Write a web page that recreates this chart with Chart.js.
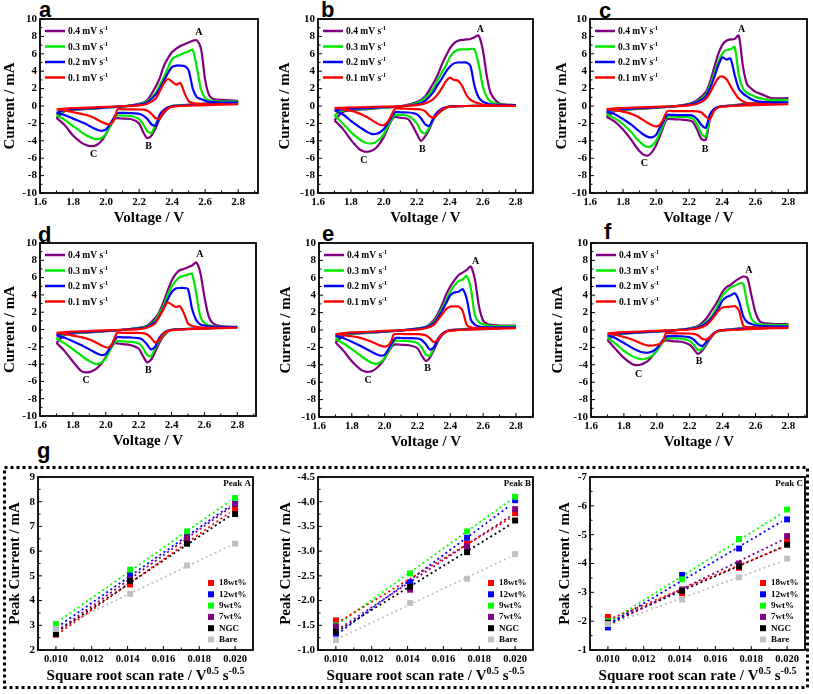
<!DOCTYPE html>
<html lang="en">
<head>
<meta charset="UTF-8" />
<title>CV curves and peak current fits</title>
<script src="https://cdn.jsdelivr.net/npm/chart.js"></script>
<style>
  body { margin: 0; background: #fff; }
  #fig { position: relative; width: 813px; height: 694px; overflow: hidden; }
  .panel { position: absolute; }
  .tag { position: absolute; font: bold 22px "Liberation Sans", Arial, sans-serif; line-height: 1; color: #000; }
  svg.box { position: absolute; left: 0; top: 0; }
</style>
</head>
<body>
<div id="fig">
  <svg class="box" width="813" height="694">
    <rect x="4.5" y="467.5" width="803" height="220" fill="none" stroke="#000" stroke-width="3" stroke-dasharray="3 3" />
  </svg>
  <div class="tag" style="left:39px;top:-1px">a</div>
  <div class="tag" style="left:321px;top:-1px">b</div>
  <div class="tag" style="left:599px;top:0px">c</div>
  <div class="tag" style="left:38px;top:224px">d</div>
  <div class="tag" style="left:322px;top:223px">e</div>
  <div class="tag" style="left:604px;top:221px">f</div>
  <div class="tag" style="left:37px;top:440px">g</div>
</div>

<script>
// ---- axis ticks and labels ----
const cvXTicks = [1.6, 1.8, 2.0, 2.2, 2.4, 2.6, 2.8];
const cvYTicks = [-10, -8, -6, -4, -2, 0, 2, 4, 6, 8, 10];
const gXTicks = [0.010, 0.012, 0.014, 0.016, 0.018, 0.020];
const gAYTicks = [2, 3, 4, 5, 6, 7, 8, 9];
const gBYTicks = [-4.5, -4.0, -3.5, -3.0, -2.5, -2.0, -1.5, -1.0];
const gCYTicks = [-7, -6, -5, -4, -3, -2, -1];
const rateLabels = ['0.4', '0.3', '0.2', '0.1'];
const sampleLabels = ['18wt%', '12wt%', '9wt%', '7wt%', 'NGC', 'Bare'];

// ---- CV voltage grid: anodic sweep then cathodic sweep ----
const vUp = [1.70, 1.75, 1.80, 1.90, 2.00, 2.10, 2.20, 2.25, 2.30, 2.325, 2.35, 2.375, 2.40, 2.425, 2.45, 2.475, 2.50, 2.525, 2.55, 2.575, 2.60, 2.625, 2.65, 2.70, 2.80];
const vDown = [2.80, 2.70, 2.60, 2.50, 2.45, 2.40, 2.375, 2.35, 2.325, 2.30, 2.275, 2.25, 2.225, 2.20, 2.15, 2.10, 2.07, 2.055, 2.04, 2.02, 2.00, 1.975, 1.95, 1.925, 1.90, 1.875, 1.85, 1.80, 1.75, 1.70];

// currents (mA), rows: 0.4, 0.3, 0.2, 0.1 mV/s
const aUp = [
  [-1.37, -0.6, -0.45, -0.33, -0.2, -0.05, 0.25, 0.7, 2.2, 3.2, 4.6, 5.5, 6.2, 6.6, 6.9, 7.1, 7.3, 7.5, 7.55, 6.6, 3.0, 1.2, 0.8, 0.7, 0.6],
  [-1.07, -0.55, -0.42, -0.3, -0.18, -0.05, 0.2, 0.55, 1.5, 2.4, 3.3, 4.4, 5.4, 5.7, 5.9, 6.1, 6.3, 6.45, 4.4, 1.9, 0.9, 0.65, 0.55, 0.5, 0.5],
  [-0.8, -0.45, -0.37, -0.27, -0.15, -0.04, 0.15, 0.45, 1.3, 2.0, 2.9, 3.8, 4.5, 4.65, 4.65, 4.6, 4.1, 2.0, 1.0, 0.8, 0.6, 0.5, 0.45, 0.4, 0.4],
  [-0.38, -0.3, -0.25, -0.18, -0.1, -0.03, 0.08, 0.27, 0.84, 1.7, 2.6, 3.1, 2.8, 2.45, 2.65, 1.5, 0.55, 0.35, 0.27, 0.23, 0.22, 0.2, 0.2, 0.2, 0.2]
];
const aDown = [
  [0.6, 0.45, 0.3, 0.15, 0.08, 0.0, -0.3, -0.8, -1.5, -2.55, -3.4, -3.7, -3.0, -2.0, -1.5, -1.45, -1.4, -1.45, -1.85, -2.45, -3.2, -3.95, -4.4, -4.6, -4.6, -4.45, -4.2, -3.4, -2.2, -1.37],
  [0.5, 0.4, 0.25, 0.12, 0.05, -0.02, -0.2, -0.55, -1.2, -2.1, -3.1, -2.9, -2.1, -1.5, -1.15, -1.1, -1.07, -1.3, -1.8, -2.5, -3.2, -3.65, -3.8, -3.75, -3.55, -3.3, -3.0, -2.3, -1.6, -1.07],
  [0.4, 0.3, 0.2, 0.1, 0.04, -0.03, -0.15, -0.45, -1.0, -2.25, -2.1, -1.5, -1.1, -0.9, -0.82, -0.8, -0.8, -1.1, -1.6, -2.2, -2.7, -2.85, -2.75, -2.55, -2.3, -2.05, -1.85, -1.45, -1.05, -0.8],
  [0.2, 0.15, 0.1, 0.05, 0.0, -0.1, -0.25, -0.6, -1.4, -1.4, -0.9, -0.55, -0.42, -0.4, -0.38, -0.38, -0.38, -1.2, -1.8, -2.1, -2.05, -1.85, -1.6, -1.35, -1.15, -1.0, -0.9, -0.7, -0.5, -0.38]
];
const bUp = [
  [-1.64, -0.7, -0.5, -0.35, -0.2, -0.05, 0.46, 1.1, 2.6, 3.5, 4.7, 5.7, 6.6, 7.2, 7.5, 7.6, 7.65, 7.7, 7.9, 8.1, 6.5, 3.4, 1.4, 0.3, 0.1],
  [-1.07, -0.55, -0.42, -0.3, -0.18, -0.05, 0.35, 0.9, 2.0, 2.9, 3.8, 4.6, 5.6, 6.2, 6.45, 6.5, 6.5, 6.55, 6.5, 4.8, 2.3, 1.0, 0.5, 0.2, 0.1],
  [-0.5, -0.38, -0.32, -0.24, -0.14, -0.04, 0.2, 0.6, 1.6, 2.4, 3.1, 3.9, 4.5, 4.9, 5.0, 5.0, 5.0, 4.6, 2.3, 1.0, 0.5, 0.3, 0.2, 0.12, 0.1],
  [-0.23, -0.2, -0.17, -0.12, -0.08, -0.03, 0.1, 0.3, 0.8, 1.3, 2.0, 2.8, 3.25, 3.0, 2.9, 2.3, 1.3, 0.7, 0.45, 0.3, 0.15, 0.1, 0.07, 0.05, 0.03]
];
const bDown = [
  [0.1, 0.05, 0.02, 0.0, -0.02, -0.08, -0.25, -0.55, -0.95, -1.6, -2.7, -3.5, -4.0, -3.2, -1.55, -1.35, -1.26, -1.4, -1.85, -2.7, -3.55, -4.3, -4.85, -5.15, -5.26, -5.2, -4.95, -3.9, -2.6, -1.64],
  [0.1, 0.04, 0.02, 0.0, -0.02, -0.07, -0.2, -0.45, -0.85, -1.5, -2.5, -3.15, -2.9, -2.0, -1.15, -1.02, -1.0, -1.3, -1.8, -2.5, -3.2, -3.8, -4.15, -4.3, -4.28, -4.1, -3.8, -3.0, -2.0, -1.07],
  [0.1, 0.04, 0.02, 0.0, -0.02, -0.06, -0.15, -0.35, -0.7, -1.4, -2.3, -2.1, -1.4, -0.95, -0.75, -0.72, -0.7, -1.05, -1.5, -2.1, -2.65, -3.05, -3.22, -3.2, -3.0, -2.7, -2.4, -1.7, -0.95, -0.5],
  [0.03, 0.02, 0.0, 0.0, -0.03, -0.08, -0.2, -0.45, -0.95, -1.37, -1.1, -0.6, -0.4, -0.35, -0.32, -0.3, -0.3, -0.7, -1.3, -1.9, -2.2, -2.15, -1.9, -1.6, -1.3, -1.05, -0.85, -0.55, -0.35, -0.23]
];
const cUp = [
  [-1.23, -0.6, -0.45, -0.33, -0.2, -0.05, 0.25, 0.7, 1.6, 2.7, 4.3, 5.9, 7.0, 7.5, 7.65, 7.7, 8.1, 4.6, 2.5, 2.0, 1.65, 1.45, 1.25, 0.9, 0.9],
  [-0.92, -0.5, -0.4, -0.3, -0.18, -0.05, 0.2, 0.55, 1.3, 2.3, 3.6, 5.0, 6.0, 6.45, 6.5, 6.8, 3.6, 2.0, 1.5, 1.3, 1.05, 0.9, 0.8, 0.7, 0.7],
  [-0.65, -0.42, -0.35, -0.26, -0.15, -0.04, 0.15, 0.45, 1.1, 2.0, 3.2, 4.6, 5.6, 5.35, 5.45, 3.6, 2.0, 1.45, 1.1, 0.8, 0.6, 0.5, 0.45, 0.42, 0.42],
  [-0.35, -0.28, -0.23, -0.16, -0.1, -0.03, 0.08, 0.25, 0.8, 1.5, 2.4, 3.2, 3.4, 3.1, 2.3, 1.5, 0.85, 0.52, 0.35, 0.28, 0.25, 0.23, 0.22, 0.2, 0.2]
];
const cDown = [
  [0.9, 0.6, 0.35, 0.15, 0.05, -0.03, -0.15, -0.45, -1.6, -3.9, -3.8, -2.8, -1.9, -1.65, -1.55, -1.52, -1.5, -1.8, -2.6, -3.6, -4.5, -5.3, -5.7, -5.6, -5.2, -4.6, -3.9, -2.7, -1.8, -1.23],
  [0.7, 0.45, 0.28, 0.12, 0.04, -0.03, -0.12, -0.4, -1.2, -3.55, -3.2, -2.2, -1.5, -1.3, -1.25, -1.23, -1.22, -1.6, -2.3, -3.2, -4.0, -4.55, -4.7, -4.5, -4.1, -3.6, -3.0, -2.1, -1.4, -0.92],
  [0.42, 0.32, 0.2, 0.1, 0.03, -0.03, -0.12, -0.35, -1.0, -2.5, -2.2, -1.55, -1.15, -1.05, -1.04, -1.03, -1.0, -1.35, -1.9, -2.6, -3.3, -3.6, -3.55, -3.3, -2.95, -2.55, -2.15, -1.5, -0.95, -0.65],
  [0.2, 0.15, 0.1, 0.04, 0.0, -0.06, -0.15, -0.6, -1.5, -1.2, -0.75, -0.62, -0.6, -0.58, -0.58, -0.58, -0.56, -1.0, -1.7, -2.2, -2.35, -2.2, -1.95, -1.65, -1.35, -1.1, -0.9, -0.65, -0.48, -0.35]
];
const dUp = [
  [-1.54, -0.65, -0.48, -0.34, -0.2, -0.05, 0.2, 0.4, 1.3, 2.0, 3.1, 4.4, 5.6, 6.4, 6.85, 7.0, 7.2, 7.4, 7.75, 6.6, 3.8, 1.6, 0.75, 0.4, 0.3],
  [-1.04, -0.55, -0.42, -0.3, -0.18, -0.05, 0.18, 0.35, 1.0, 1.8, 2.7, 3.9, 4.9, 5.6, 6.05, 6.2, 6.35, 6.45, 4.2, 1.5, 0.75, 0.5, 0.38, 0.3, 0.28],
  [-0.65, -0.42, -0.35, -0.26, -0.15, -0.04, 0.12, 0.3, 0.85, 1.5, 2.4, 3.4, 4.3, 4.75, 4.8, 4.8, 4.7, 2.4, 1.1, 0.6, 0.45, 0.38, 0.33, 0.3, 0.28],
  [-0.38, -0.3, -0.25, -0.18, -0.1, -0.03, 0.05, 0.2, 0.7, 1.5, 2.3, 3.15, 2.9, 2.6, 2.7, 1.9, 0.7, 0.4, 0.3, 0.25, 0.22, 0.2, 0.2, 0.2, 0.2]
];
const dDown = [
  [0.3, 0.25, 0.15, 0.08, 0.03, -0.03, -0.3, -0.8, -1.6, -2.6, -3.5, -3.8, -3.0, -2.2, -1.8, -1.7, -1.6, -1.6, -1.9, -2.5, -3.2, -3.9, -4.4, -4.75, -4.92, -4.96, -4.8, -3.7, -2.5, -1.54],
  [0.28, 0.22, 0.13, 0.07, 0.02, -0.03, -0.25, -0.65, -1.3, -2.2, -3.1, -2.9, -2.1, -1.6, -1.42, -1.38, -1.35, -1.5, -1.9, -2.6, -3.3, -3.8, -4.0, -3.9, -3.65, -3.35, -3.0, -2.3, -1.6, -1.04],
  [0.28, 0.2, 0.12, 0.06, 0.02, -0.03, -0.15, -0.45, -1.0, -2.0, -2.3, -1.7, -1.2, -1.0, -0.92, -0.9, -0.88, -1.2, -1.7, -2.3, -2.85, -2.95, -2.8, -2.55, -2.3, -2.05, -1.8, -1.35, -0.95, -0.65],
  [0.2, 0.15, 0.1, 0.05, 0.0, -0.08, -0.2, -0.5, -1.2, -1.5, -0.95, -0.55, -0.42, -0.4, -0.38, -0.38, -0.38, -0.9, -1.6, -2.05, -2.05, -1.85, -1.6, -1.35, -1.15, -1.0, -0.88, -0.7, -0.5, -0.38]
];
const eUp = [
  [-1.42, -0.65, -0.48, -0.34, -0.2, -0.05, 0.2, 0.35, 1.15, 1.9, 2.9, 4.1, 5.0, 5.7, 6.3, 6.6, 6.9, 7.3, 5.8, 2.7, 1.1, 0.7, 0.58, 0.52, 0.5],
  [-1.04, -0.55, -0.42, -0.3, -0.18, -0.05, 0.17, 0.35, 0.95, 1.6, 2.5, 3.4, 4.4, 5.1, 5.6, 5.8, 6.2, 4.8, 1.7, 0.9, 0.65, 0.55, 0.48, 0.45, 0.45],
  [-0.65, -0.42, -0.35, -0.26, -0.15, -0.04, 0.12, 0.3, 0.8, 1.4, 2.2, 3.1, 4.0, 4.3, 4.4, 4.7, 3.6, 1.2, 0.6, 0.4, 0.33, 0.3, 0.3, 0.3, 0.3],
  [-0.46, -0.35, -0.28, -0.2, -0.11, -0.03, 0.05, 0.2, 0.6, 1.2, 1.8, 2.4, 2.7, 2.7, 2.7, 2.2, 0.6, 0.3, 0.25, 0.23, 0.22, 0.2, 0.2, 0.2, 0.2]
];
const eDown = [
  [0.5, 0.38, 0.25, 0.12, 0.05, -0.02, -0.2, -0.6, -1.3, -2.3, -3.2, -3.55, -2.9, -2.1, -1.75, -1.7, -1.65, -1.7, -2.0, -2.6, -3.3, -3.9, -4.4, -4.7, -4.8, -4.75, -4.5, -3.6, -2.4, -1.42],
  [0.45, 0.33, 0.2, 0.1, 0.04, -0.03, -0.18, -0.5, -1.1, -2.0, -2.95, -2.8, -2.0, -1.5, -1.27, -1.25, -1.23, -1.4, -1.85, -2.5, -3.2, -3.7, -3.9, -3.8, -3.55, -3.25, -2.9, -2.2, -1.55, -1.04],
  [0.3, 0.22, 0.14, 0.07, 0.02, -0.03, -0.15, -0.45, -1.0, -2.0, -2.25, -1.6, -1.15, -0.98, -0.93, -0.92, -0.9, -1.15, -1.65, -2.3, -2.85, -2.95, -2.8, -2.55, -2.3, -2.05, -1.8, -1.35, -0.95, -0.65],
  [0.2, 0.15, 0.1, 0.05, 0.0, -0.08, -0.2, -0.5, -1.1, -1.4, -0.95, -0.6, -0.5, -0.48, -0.47, -0.46, -0.46, -0.5, -1.3, -1.8, -1.92, -1.8, -1.6, -1.38, -1.2, -1.05, -0.9, -0.72, -0.58, -0.46]
];
const fUp = [
  [-1.14, -0.55, -0.42, -0.3, -0.18, -0.05, 0.2, 0.46, 1.3, 2.0, 2.7, 3.5, 4.4, 4.95, 5.2, 5.6, 5.9, 6.15, 6.0, 4.0, 2.0, 1.0, 0.8, 0.72, 0.65],
  [-0.88, -0.5, -0.4, -0.28, -0.17, -0.05, 0.15, 0.35, 0.9, 1.4, 2.1, 3.0, 4.0, 4.5, 4.9, 5.1, 5.35, 5.3, 3.0, 1.3, 0.8, 0.65, 0.6, 0.58, 0.55],
  [-0.6, -0.42, -0.35, -0.25, -0.15, -0.04, 0.12, 0.28, 0.75, 1.2, 1.8, 2.5, 3.4, 3.8, 4.0, 4.2, 3.3, 1.6, 0.9, 0.7, 0.55, 0.48, 0.45, 0.43, 0.42],
  [-0.38, -0.3, -0.25, -0.17, -0.1, -0.03, 0.06, 0.18, 0.55, 1.0, 1.6, 2.2, 2.6, 2.65, 2.68, 2.75, 2.2, 0.5, 0.3, 0.28, 0.27, 0.26, 0.25, 0.25, 0.25]
];
const fDown = [
  [0.65, 0.5, 0.35, 0.18, 0.08, 0.0, -0.1, -0.4, -1.0, -1.7, -2.4, -2.75, -2.2, -1.7, -1.35, -1.3, -1.2, -1.2, -1.35, -1.8, -2.3, -2.95, -3.5, -3.8, -4.0, -4.04, -3.9, -3.2, -2.2, -1.14],
  [0.55, 0.42, 0.28, 0.14, 0.05, -0.02, -0.1, -0.35, -0.85, -1.5, -2.2, -2.3, -1.7, -1.25, -1.0, -0.97, -0.95, -1.0, -1.3, -1.8, -2.4, -2.9, -3.2, -3.33, -3.35, -3.2, -3.0, -2.4, -1.6, -0.88],
  [0.42, 0.32, 0.2, 0.1, 0.03, -0.02, -0.08, -0.3, -0.75, -1.4, -1.85, -1.6, -1.1, -0.85, -0.72, -0.7, -0.7, -0.8, -1.1, -1.6, -2.1, -2.45, -2.6, -2.6, -2.5, -2.3, -2.05, -1.5, -0.95, -0.6],
  [0.25, 0.2, 0.12, 0.05, 0.0, -0.05, -0.12, -0.35, -0.8, -1.1, -1.0, -0.6, -0.45, -0.4, -0.38, -0.38, -0.36, -0.35, -1.2, -1.6, -1.7, -1.78, -1.8, -1.7, -1.5, -1.3, -1.1, -0.8, -0.55, -0.38]
];

// ---- peak current vs sqrt(scan rate); rows follow sampleLabels ----
const gX = [0.010, 0.01414, 0.01732, 0.020];
const peakAVals = [
  [2.62, 4.65, 6.4, 7.7], [2.85, 5.05, 6.6, 7.95], [3.05, 5.25, 6.8, 8.15],
  [2.75, 4.85, 6.55, 7.9], [2.65, 4.8, 6.3, 7.5], [2.85, 4.27, 5.42, 6.3]
];
const peakBVals = [
  [-1.6, -2.33, -3.15, -3.77], [-1.33, -2.37, -3.27, -4.03], [-1.5, -2.55, -3.4, -4.1],
  [-1.48, -2.22, -3.1, -3.85], [-1.37, -2.28, -2.98, -3.62], [-1.2, -1.95, -2.44, -2.94]
];
const peakCVals = [
  [-2.15, -2.97, -3.85, -4.75], [-1.78, -3.6, -4.52, -5.53], [-2.0, -3.45, -4.85, -5.87],
  [-1.9, -3.1, -4.0, -4.95], [-1.95, -3.05, -3.9, -4.65], [-1.9, -2.75, -3.52, -4.17]
];
// dotted linear fits, ends at fitX
const fitX = [0.0103, 0.0197];
const peakAFit = [[2.75, 7.56], [3.04, 7.82], [3.24, 8.02], [2.89, 7.75], [2.85, 7.42], [2.95, 6.21]];
const peakBFit = [[-1.6, -3.66], [-1.38, -3.92], [-1.57, -4.02], [-1.46, -3.7], [-1.43, -3.53], [-1.26, -2.88]];
const peakCFit = [[-2.12, -4.55], [-1.99, -5.46], [-2.06, -5.74], [-1.96, -4.8], [-2.02, -4.56], [-1.93, -4.07]];

const SERIF = '"Liberation Serif", "Times New Roman", serif';
const cvColors = ['#800080', '#00e600', '#0000ff', '#ff0000'];
const gColors = ['#ff0000', '#0000ff', '#00ff00', '#800080', '#000000', '#c0c0c0'];

const cvPanels = [
  { up: aUp, down: aDown, l: 40, t: 19, r: 258, b: 193, titleX: 10, xMax: 2.92, peaks: [[2.562, 8.4], [2.258, -4.6], [1.924, -5.56]] },
  { up: bUp, down: bDown, l: 318, t: 19, r: 533, b: 193, titleX: 285, xMax: 2.905, peaks: [[2.586, 8.84], [2.234, -5.0], [1.878, -6.2]] },
  { up: cUp, down: cDown, l: 590, t: 19, r: 807, b: 193, titleX: 562, xMax: 2.913, peaks: [[2.518, 8.83], [2.296, -4.95], [1.929, -6.6]] },
  { up: dUp, down: dDown, l: 40, t: 243, r: 256, b: 416, titleX: 10, xMax: 2.914, peaks: [[2.573, 8.65], [2.259, -4.7], [1.88, -5.85]] },
  { up: eUp, down: eDown, l: 319, t: 243, r: 533, b: 417, titleX: 286, xMax: 2.904, peaks: [[2.554, 7.9], [2.261, -4.4], [1.899, -5.77]] },
  { up: fUp, down: fDown, l: 591, t: 243, r: 807, b: 417, titleX: 558, xMax: 2.913, peaks: [[2.56, 6.9], [2.257, -3.6], [1.889, -5.07]] }
];
const gPanels = [
  { vals: peakAVals, fit: peakAFit, ticks: gAYTicks, min: 2, max: 9, reverse: false, yStep: 0.5, name: 'Peak A', dec: 0, l: 38, t: 477, r: 253, b: 650, titleX: 15 },
  { vals: peakBVals, fit: peakBFit, ticks: gBYTicks, min: -4.5, max: -1.0, reverse: true, yStep: 0.25, name: 'Peak B', dec: 1, l: 318, t: 477, r: 533, b: 650, titleX: 286 },
  { vals: peakCVals, fit: peakCFit, ticks: gCYTicks, min: -7, max: -1, reverse: true, yStep: 0.5, name: 'Peak C', dec: 0, l: 590, t: 477, r: 805, b: 650, titleX: 565 }
];

const fig = document.getElementById('fig');
const PAD_T = 12, PAD_R = 8, X_H = 36;

function makeCanvas(p) {
  const x = p.titleX - 10, y = p.t - PAD_T;
  const w = p.r - x + PAD_R, h = p.b - p.t + PAD_T + X_H;
  const div = document.createElement('div');
  div.className = 'panel';
  div.style.left = x + 'px';
  div.style.top = y + 'px';
  const cv = document.createElement('canvas');
  cv.width = w; cv.height = h;
  cv.style.width = w + 'px'; cv.style.height = h + 'px';
  div.appendChild(cv);
  fig.appendChild(div);
  return { cv, yW: p.l - x };
}

// frame box + inward major/minor ticks on bottom and left
function frameAndTicks(chart, xStep, yStep) {
  const { ctx, chartArea: a, scales: { x, y } } = chart;
  ctx.strokeStyle = '#000';
  ctx.lineWidth = 1;
  ctx.beginPath();
  for (let k = Math.ceil(x.min / xStep - 1e-6); k <= Math.floor(x.max / xStep + 1e-6); k++) {
    const px = x.getPixelForValue(k * xStep);
    const len = k % 2 === 0 ? 4 : 2.5;
    ctx.moveTo(px, a.bottom); ctx.lineTo(px, a.bottom - len);
  }
  for (let k = Math.ceil(y.min / yStep - 1e-6); k <= Math.floor(y.max / yStep + 1e-6); k++) {
    const py = y.getPixelForValue(k * yStep);
    const len = k % 2 === 0 ? 4 : 2.5;
    ctx.moveTo(a.left, py); ctx.lineTo(a.left + len, py);
  }
  ctx.stroke();
  ctx.lineWidth = 1.8;
  ctx.strokeRect(a.left, a.top, a.right - a.left, a.bottom - a.top);
}

// text with superscript parts: [[text, isSup], ...]
function supText(ctx, parts, x, y, size, align) {
  const fonts = parts.map(([, s]) => `bold ${s ? Math.round(size * 0.68) : size}px ${SERIF}`);
  let w = 0;
  parts.forEach(([t], i) => { ctx.font = fonts[i]; w += ctx.measureText(t).width; });
  let cx = align === 'center' ? x - w / 2 : x;
  ctx.textAlign = 'left';
  ctx.textBaseline = 'alphabetic';
  parts.forEach(([t, s], i) => {
    ctx.font = fonts[i];
    ctx.fillText(t, cx, s ? y - size * 0.42 : y);
    cx += ctx.measureText(t).width;
  });
}

function axisBase(yW) {
  return {
    grid: { display: false, drawTicks: false },
    border: { display: false },
    afterFit: s => { if (s.isHorizontal()) s.height = X_H; else s.width = yW; }
  };
}

const tickFont = size => ({ family: SERIF, weight: 'bold', size });
const titleFont = { family: SERIF, weight: 'bold', size: 15 };

cvPanels.forEach(p => {
  const { cv, yW } = makeCanvas(p);
  const datasets = p.up.map((up, i) => ({
    data: vUp.map((v, j) => ({ x: v, y: up[j] })).concat(vDown.map((v, j) => ({ x: v, y: p.down[i][j] }))),
    showLine: true,
    borderColor: cvColors[i],
    borderWidth: 2.2,
    pointRadius: 0,
    tension: 0.25,
    order: 3 - i
  }));
  new Chart(cv, {
    type: 'scatter',
    data: { datasets },
    options: {
      responsive: false, animation: false, events: [],
      layout: { padding: { top: PAD_T, right: PAD_R, left: 0, bottom: 0 } },
      plugins: { legend: { display: false }, tooltip: { enabled: false } },
      scales: {
        x: {
          ...axisBase(yW), type: 'linear', min: 1.6, max: p.xMax,
          afterBuildTicks: s => { s.ticks = cvXTicks.map(v => ({ value: v })); },
          ticks: { font: tickFont(11), color: '#000', padding: 3, maxRotation: 0, callback: v => v.toFixed(1) },
          title: { display: true, text: 'Voltage / V', font: titleFont, color: '#000', padding: { top: 0, bottom: 2 } }
        },
        y: {
          ...axisBase(yW), min: -10, max: 10,
          afterBuildTicks: s => { s.ticks = cvYTicks.map(v => ({ value: v })); },
          ticks: { font: tickFont(11), color: '#000', padding: 3, callback: v => String(v) },
          title: { display: true, text: 'Current / mA', font: titleFont, color: '#000', padding: { top: 1, bottom: 0 } }
        }
      }
    },
    plugins: [{
      id: 'cvDeco',
      afterDraw(chart) {
        const { ctx, chartArea: a, scales: { x, y } } = chart;
        ctx.save();
        frameAndTicks(chart, 0.1, 1);
        rateLabels.forEach((r, i) => {
          const ly = a.top + 12 + i * 15.5;
          ctx.strokeStyle = cvColors[i];
          ctx.lineWidth = 2.5;
          ctx.beginPath(); ctx.moveTo(a.left + 5, ly); ctx.lineTo(a.left + 25, ly); ctx.stroke();
          ctx.fillStyle = '#000';
          supText(ctx, [[r + ' mV s', false], ['-1', true]], a.left + 28, ly + 3, 9.5, 'left');
        });
        ctx.font = `bold 10px ${SERIF}`;
        ctx.textAlign = 'center';
        ctx.textBaseline = 'middle';
        ['A', 'B', 'C'].forEach((t, i) => ctx.fillText(t, x.getPixelForValue(p.peaks[i][0]), y.getPixelForValue(p.peaks[i][1])));
        ctx.restore();
      }
    }]
  });
});

gPanels.forEach(p => {
  const { cv, yW } = makeCanvas(p);
  const fits = p.fit.map((f, i) => ({
    data: fitX.map((v, j) => ({ x: v, y: f[j] })),
    showLine: true, borderColor: gColors[i], borderWidth: 1.8, borderDash: [2, 3],
    pointRadius: 0, order: 20 + i
  }));
  const marks = p.vals.map((vals, i) => ({
    data: gX.map((v, j) => ({ x: v, y: vals[j] })),
    showLine: false, pointStyle: 'rect', pointRadius: 4.2, borderWidth: 0,
    backgroundColor: gColors[i], pointBackgroundColor: gColors[i], order: 10 - i
  }));
  new Chart(cv, {
    type: 'scatter',
    data: { datasets: fits.concat(marks) },
    options: {
      responsive: false, animation: false, events: [],
      layout: { padding: { top: PAD_T, right: PAD_R, left: 0, bottom: 0 } },
      plugins: { legend: { display: false }, tooltip: { enabled: false } },
      scales: {
        x: {
          ...axisBase(yW), type: 'linear', min: 0.009, max: 0.021,
          afterBuildTicks: s => { s.ticks = gXTicks.map(v => ({ value: v })); },
          ticks: { font: tickFont(10.5), color: '#000', padding: 3, maxRotation: 0, callback: v => v.toFixed(3) },
          title: { display: false }
        },
        y: {
          ...axisBase(yW), min: p.min, max: p.max, reverse: p.reverse,
          afterBuildTicks: s => { s.ticks = p.ticks.map(v => ({ value: v })); },
          ticks: { font: tickFont(11), color: '#000', padding: 3, callback: v => v.toFixed(p.dec) },
          title: { display: true, text: 'Peak Current / mA', font: titleFont, color: '#000', padding: { top: 1, bottom: 0 } }
        }
      }
    },
    plugins: [{
      id: 'gDeco',
      afterDraw(chart) {
        const { ctx, chartArea: a } = chart;
        ctx.save();
        frameAndTicks(chart, 0.001, p.yStep);
        ctx.fillStyle = '#000';
        ctx.font = `bold 9px ${SERIF}`;
        ctx.textAlign = 'right';
        ctx.textBaseline = 'middle';
        ctx.fillText(p.name, a.right - 2, a.top + 7);
        sampleLabels.forEach((s, i) => {
          const ly = a.bottom - 67 + i * 11.3;
          ctx.fillStyle = gColors[i];
          ctx.fillRect(a.right - 45, ly - 3, 6, 6);
          ctx.fillStyle = '#000';
          ctx.font = `bold 9px ${SERIF}`;
          ctx.textAlign = 'left';
          ctx.textBaseline = 'middle';
          ctx.fillText(s, a.right - 34, ly);
        });
        supText(ctx, [['Square root scan rate / V', false], ['0.5', true], [' s', false], ['-0.5', true]],
          (a.left + a.right) / 2, a.bottom + 30, 15, 'center');
        ctx.restore();
      }
    }]
  });
});
</script>
</body>
</html>
